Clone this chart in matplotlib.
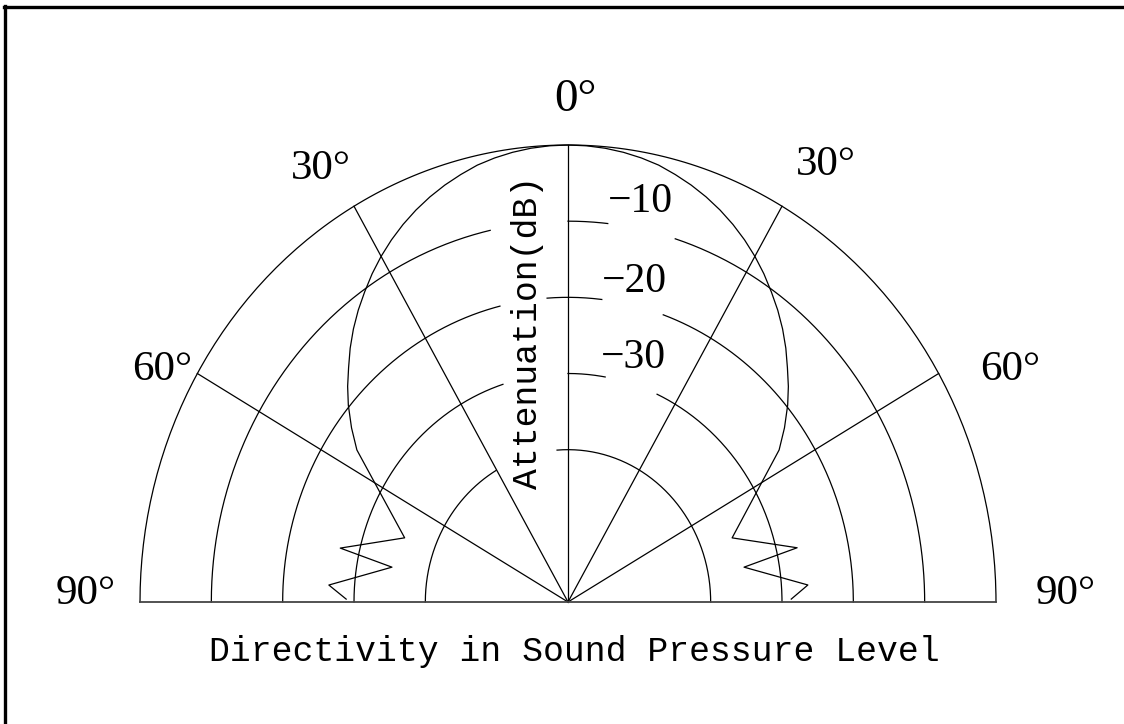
import numpy as np
import matplotlib.pyplot as plt
from matplotlib.lines import Line2D

# levels in dB, centre of the plot is -60 dB
floor_db = -60
ring_db = [0, -10, -20, -30, -40]
# angular pieces (deg, 0 = up, negative = left) that are drawn for each ring,
# the gaps leave room for the labels
ring_pieces = [
    [(-90, 90)],
    [(-90, -12.6), (0, 6.4), (17.5, 90)],
    [(-90, -13.8), (-4.2, 6.8), (19.5, 90)],
    [(-90, -17.7), (0, 10), (24.6, 90)],
    [(-90, -30.3), (-4.4, 90)],
]
spoke_angles = [-60, -30, 0, 30, 60]

angle_labels = ['0°', '30°', '30°', '60°', '60°', '90°', '90°']
level_labels = ['\u221210', '\u221220', '\u221230']

# measured directivity pattern: main lobe (0..56 deg, same both sides)
lobe_angle = [0, 2.5, 5, 7.5, 10, 12.5, 15, 17.5, 20, 22.5, 25, 27.5, 30, 32.5,
              35, 37.5, 40, 42.5, 45, 47.5, 50, 53, 56]
lobe_db = [0, -0.05, -0.2, -0.45, -0.8, -1.25, -1.9, -2.6, -3.4, -4.3, -5.3, -6.4,
           -7.6, -8.9, -10.3, -11.7, -13.2, -14.8, -16.5, -18.1, -19.8, -22.0, -24.3]
# side lobes near 90 deg
left_tail_angle = [-89.3, -86.2, -79.5, -77.5, -69.8]
left_tail_db = [-28.9, -26.4, -34.9, -27.3, -35.6]
right_tail_angle = [69.9, 77.5, 79.5, 86.2, 89.3]
right_tail_db = [-35.5, -27.1, -34.9, -26.3, -28.7]


def to_xy(angle_deg, db):
    a = np.radians(np.asarray(angle_deg, dtype=float))
    r = np.asarray(db, dtype=float) - floor_db
    return r * np.sin(a), r * np.cos(a)


pattern_angle = (left_tail_angle + [-a for a in lobe_angle[::-1]] + lobe_angle[1:]
                 + right_tail_angle)
pattern_db = left_tail_db + lobe_db[::-1] + lobe_db[1:] + right_tail_db

W, H = 1124, 724
fig = plt.figure(figsize=(W / 100, H / 100), dpi=100)
ax = fig.add_axes([140 / W, 122 / H, 856 / W, 457 / H])
ax.set_xlim(-60, 60)
ax.set_ylim(0, 60)
ax.axis('off')

lw = 0.9
for db, pieces in zip(ring_db, ring_pieces):
    for a0, a1 in pieces:
        t = np.linspace(a0, a1, 200)
        x, y = to_xy(t, np.full_like(t, db))
        ax.plot(x, y, color='black', lw=lw, clip_on=False)

for a in spoke_angles:
    x, y = to_xy([a, a], [floor_db, 0])
    ax.plot(x, y, color='black', lw=lw, clip_on=False)

# baseline (90 deg spokes)
x, y = to_xy([-90, 90], [0, 0])
ax.plot(x, y, color='#444444', lw=1.3, clip_on=False)

px, py = to_xy(pattern_angle, pattern_db)
ax.plot(px, py, color='black', lw=lw, clip_on=False)


def ft(x, y, s, **kw):
    fig.text(x / W, 1 - y / H, s, ha='center', va='center', **kw)


serif = dict(family='Liberation Serif', fontsize=31)
ft(575, 100, angle_labels[0], family='Liberation Serif', fontsize=34)
label_pos = [(321, 169), (826, 165), (162, 370), (1010, 370), (86, 594), (1066, 594)]
for (x, y), s in zip(label_pos, angle_labels[1:]):
    ft(x, y, s, **serif)

for (x, y), s in zip([(640, 202), (634, 282), (633, 358)], level_labels):
    ft(x, y, s, family='Liberation Serif', fontsize=30)

mono = dict(family='Liberation Mono', fontsize=25)
ft(527, 332, 'Attenuation(dB)', rotation=90, **mono)
ft(574, 652, 'Directivity in Sound Pressure Level', **mono)

# frame
fig.add_artist(Line2D([4 / W, 1], [1 - 7.3 / H, 1 - 7.3 / H], color='black', lw=2.4))
fig.add_artist(Line2D([5 / W, 5 / W], [1 - 6 / H, 0], color='black', lw=2.4))

fig.savefig('out.png', dpi=100)
